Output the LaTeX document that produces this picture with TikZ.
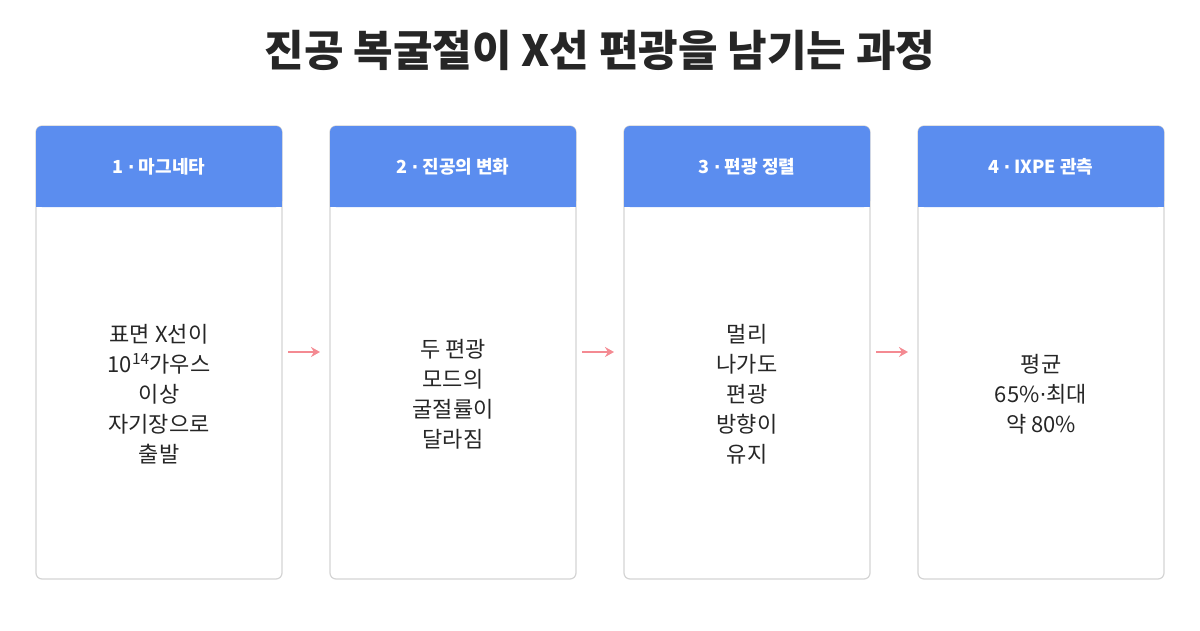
\documentclass[tikz,border=0pt]{standalone}
\usepackage{fontspec}
\setmainfont{Noto Sans CJK KR}
\newfontfamily\dotfont{DejaVu Sans}
\usetikzlibrary{arrows.meta}
\definecolor{hdr}{HTML}{5B8DEF}
\definecolor{brd}{HTML}{D4D4D4}
\definecolor{arr}{HTML}{F48A92}
\newcommand{\mdot}{{\dotfont ·}}
\begin{document}
\begin{tikzpicture}[x=1pt,y=-1pt,
  box/.style={draw=brd,line width=1.2pt,rounded corners=6pt,fill=white},
  hd/.style={text=white,font=\fontsize{18}{22}\selectfont\bfseries},
  bd/.style={align=center,font=\fontsize{22}{30}\selectfont,text=black!85},
  ar/.style={draw=arr,line width=2.5pt,-{Stealth[length=9pt,width=10pt]}}]
\useasboundingbox (0,0) rectangle (1200,630);
\node[font=\fontsize{43}{48}\selectfont\bfseries,text=black!85] (t) at (600,50) {진공 복굴절이 X선 편광을 남기는 과정};
\foreach \i/\x/\h/\b in {1/36/{1 \mdot{} 마그네타}/{표면 X선이\\10\textsuperscript{14}가우스\\이상\\자기장으로\\출발},
  2/330/{2 \mdot{} 진공의 변화}/{두 편광\\모드의\\굴절률이\\달라짐},
  3/624/{3 \mdot{} 편광 정렬}/{멀리\\나가도\\편광\\방향이\\유지},
  4/918/{4 \mdot{} IXPE 관측}/{평균\\65\%\mdot{}최대\\약 80\%}}{
  \draw[box] (\x,126) rectangle ++(246,453);
  \fill[hdr,rounded corners=6pt] (\x,126) rectangle ++(246,81);
  \fill[hdr] (\x,180) rectangle ++(246,27);
  \node[hd] (h\i) at (\x+123,167) {\h};
  \node[bd] (b\i) at (\x+123,394) {\b};
  \coordinate (L\i) at (\x-10,352);
  \coordinate (R\i) at (\x+252,352);
}
\draw[ar] (R1) -- (L2);
\draw[ar] (R2) -- (L3);
\draw[ar] (R3) -- (L4);
\end{tikzpicture}
\end{document}
